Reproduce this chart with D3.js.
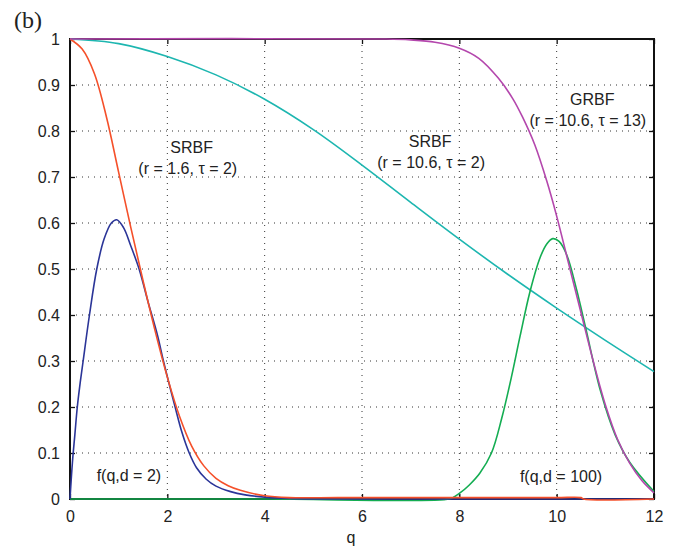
<!DOCTYPE html>
<html>
<head>
<meta charset="utf-8">
<script src="https://cdn.jsdelivr.net/npm/d3@7"></script>
<style>
  body { margin: 0; background: #fff; }
  text { font-family: "Liberation Sans", Arial, sans-serif; fill: #222; }
</style>
</head>
<body>
<div class="chart"></div>
<script>
let svgWidth = 698;
let svgHeight = 551;

let margin = { top: 39, right: 44, bottom: 52, left: 70 };
let width = svgWidth - margin.left - margin.right;
let height = svgHeight - margin.top - margin.bottom;

// values
let xTicks = [0, 2, 4, 6, 8, 10, 12];
let yTicks = [0, 0.1, 0.2, 0.3, 0.4, 0.5, 0.6, 0.7, 0.8, 0.9, 1];
let yTickLabels = ["0", "0.1", "0.2", "0.3", "0.4", "0.5", "0.6", "0.7", "0.8", "0.9", "1"];

// f(q,d = 2)
let fd2Q = [0, 0.05, 0.1, 0.15, 0.2, 0.27, 0.4, 0.55, 0.7, 0.85, 0.96, 1.1, 1.25, 1.42, 1.6, 1.8, 1.92, 2.16, 2.3, 2.45, 2.6, 2.8, 3.0, 3.3, 3.6, 4.0, 4.5, 5, 8, 12];
let fd2V = [0, 0.08, 0.14, 0.2, 0.245, 0.3, 0.4, 0.5, 0.565, 0.6, 0.607, 0.59, 0.55, 0.5, 0.43, 0.355, 0.3, 0.2, 0.145, 0.1, 0.068, 0.043, 0.028, 0.016, 0.009, 0.004, 0.001, 0, 0, 0];

// SRBF (r = 1.6, tau = 2)
let srbfSmallQ = [0, 0.25, 0.5, 0.75, 1.0, 1.25, 1.5, 1.75, 2.0, 2.25, 2.5, 2.75, 3.0, 3.25, 3.5, 4.0, 4.5, 5.5, 7, 8.5, 10, 10.5, 10.55, 12];
let srbfSmallV = [1, 0.978, 0.925, 0.83, 0.71, 0.59, 0.475, 0.365, 0.265, 0.18, 0.115, 0.072, 0.045, 0.029, 0.019, 0.007, 0.003, 0.003, 0.003, 0.003, 0.003, 0.003, 0, 0];

// SRBF (r = 10.6, tau = 2)
let srbfLargeQ = [0, 1, 2, 3, 4, 5, 6, 7, 8, 9, 10, 11, 12];
let srbfLargeV = [1, 0.99, 0.962, 0.922, 0.869, 0.803, 0.726, 0.645, 0.565, 0.488, 0.415, 0.345, 0.277];

// GRBF (r = 10.6, tau = 13)
let grbfQ = [0, 6.5, 7, 7.5, 8, 8.4, 8.8, 9.1, 9.3, 9.55, 9.8, 10.0, 10.25, 10.5, 10.75, 11.0, 11.25, 11.5, 11.75, 12];
let grbfV = [1, 1, 0.998, 0.993, 0.98, 0.958, 0.915, 0.87, 0.83, 0.77, 0.69, 0.615, 0.51, 0.405, 0.3, 0.205, 0.13, 0.078, 0.04, 0.013];

// f(q,d = 100)
let fd100Q = [0, 4, 7.8, 7.9, 8.0, 8.2, 8.42, 8.66, 8.87, 9.07, 9.25, 9.45, 9.66, 9.8, 9.92, 10.05, 10.21, 10.41, 10.6, 10.9, 11.2, 11.5, 12];
let fd100V = [0, 0, 0, 0.005, 0.012, 0.03, 0.056, 0.1, 0.175, 0.265, 0.355, 0.45, 0.525, 0.555, 0.566, 0.56, 0.53, 0.455, 0.37, 0.235, 0.14, 0.08, 0.016];

let series = [
  { name: "srbfLarge", q: srbfLargeQ, v: srbfLargeV, color: "#1db6b0" },
  { name: "fd100", q: fd100Q, v: fd100V, color: "#14ad52" },
  { name: "fd2", q: fd2Q, v: fd2V, color: "#2b3598" },
  { name: "srbfSmall", q: srbfSmallQ, v: srbfSmallV, color: "#f5502a" },
  { name: "grbf", q: grbfQ, v: grbfV, color: "#b447ad" }
];

let svg = d3.select(".chart")
  .append("svg")
  .attr("width", svgWidth)
  .attr("height", svgHeight);

let chartGroup = svg.append("g")
  .attr("transform", `translate(${margin.left}, ${margin.top})`);

let xScale = d3.scaleLinear().domain([0, 12]).range([0, width]);
let yScale = d3.scaleLinear().domain([0, 1]).range([height, 0]);

// dotted grid
chartGroup.append("g")
  .selectAll("line")
  .data(xTicks.slice(1, -1))
  .enter()
  .append("line")
  .attr("x1", d => xScale(d)).attr("x2", d => xScale(d))
  .attr("y1", 0).attr("y2", height)
  .attr("stroke", "#333")
  .attr("stroke-width", 1)
  .attr("stroke-dasharray", "1,5");

chartGroup.append("g")
  .selectAll("line")
  .data(yTicks.slice(1, -1))
  .enter()
  .append("line")
  .attr("x1", 0).attr("x2", width)
  .attr("y1", d => yScale(d)).attr("y2", d => yScale(d))
  .attr("stroke", "#333")
  .attr("stroke-width", 1)
  .attr("stroke-dasharray", "1,5");

// axes (ticks inside, mirrored on top and right)
let xAxis = d3.axisBottom(xScale).tickValues(xTicks).tickSize(-5).tickPadding(12).tickFormat(d => d);
let yAxis = d3.axisLeft(yScale).tickValues(yTicks).tickSize(-5).tickPadding(10)
  .tickFormat((d, i) => yTickLabels[i]);

chartGroup.append("g")
  .attr("transform", `translate(0, ${height})`)
  .call(xAxis);
chartGroup.append("g").call(yAxis);

chartGroup.append("g")
  .call(d3.axisTop(xScale).tickValues(xTicks).tickSize(-5).tickFormat(""));
chartGroup.append("g")
  .attr("transform", `translate(${width}, 0)`)
  .call(d3.axisRight(yScale).tickValues(yTicks).tickSize(-5).tickFormat(""));

chartGroup.selectAll(".domain").remove();
chartGroup.selectAll(".tick line").attr("stroke", "#111").attr("stroke-width", 1.3);
chartGroup.selectAll(".tick text")
  .style("font-family", "'Liberation Sans', Arial, sans-serif")
  .style("font-size", "16px")
  .attr("fill", "#222");

// frame
chartGroup.append("rect")
  .attr("x", 0).attr("y", 0)
  .attr("width", width).attr("height", height)
  .attr("fill", "none")
  .attr("stroke", "#111")
  .attr("stroke-width", 2);

// curves
let line = d3.line()
  .x(d => xScale(d[0]))
  .y(d => yScale(d[1]))
  .curve(d3.curveCatmullRom.alpha(0.5));

series.forEach(s => {
  let pts = s.q.map((q, i) => [q, s.v[i]]);
  chartGroup.append("path")
    .datum(pts)
    .attr("fill", "none")
    .attr("stroke", s.color)
    .attr("stroke-width", 1.6)
    .attr("d", line);
});

// annotations
let notes = [
  { q: 2.5, v: 0.752, t: "SRBF" },
  { q: 2.42, v: 0.707, t: "(r = 1.6, \u03c4 = 2)" },
  { q: 7.4, v: 0.765, t: "SRBF" },
  { q: 7.42, v: 0.72, t: "(r = 10.6, \u03c4 = 2)" },
  { q: 10.73, v: 0.857, t: "GRBF" },
  { q: 10.64, v: 0.811, t: "(r = 10.6, \u03c4 = 13)" },
  { q: 1.21, v: 0.039, t: "f(q,d = 2)" },
  { q: 10.09, v: 0.037, t: "f(q,d = 100)" }
];

chartGroup.selectAll(".note")
  .data(notes)
  .enter()
  .append("text")
  .attr("class", "note")
  .attr("x", d => xScale(d.q))
  .attr("y", d => yScale(d.v))
  .attr("text-anchor", "middle")
  .style("font-size", "16px")
  .text(d => d.t);

svg.append("text")
  .attr("x", 351)
  .attr("y", 543)
  .attr("text-anchor", "middle")
  .style("font-size", "16px")
  .text("q");

svg.append("text")
  .attr("x", 14)
  .attr("y", 28)
  .style("font-family", "'Liberation Serif', 'Times New Roman', serif")
  .style("font-size", "24px")
  .text("(b)");
</script>
</body>
</html>
